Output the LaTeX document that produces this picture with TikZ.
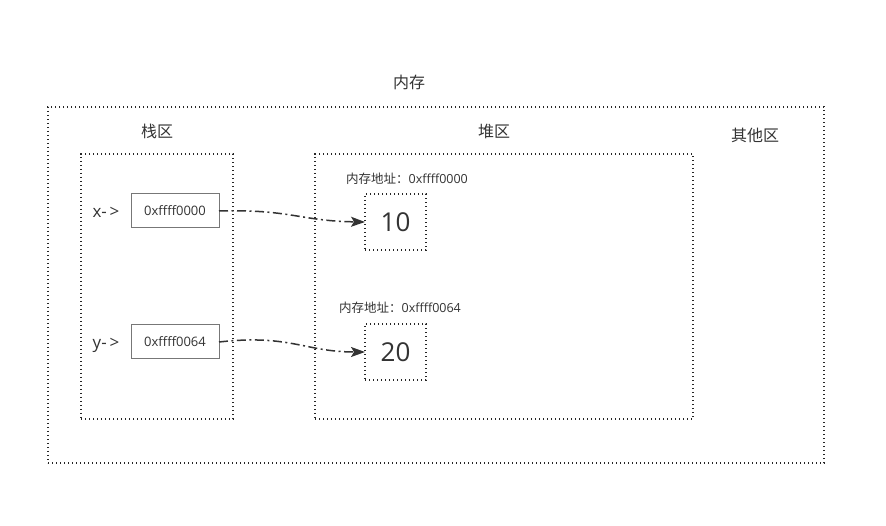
\documentclass[tikz,border=0pt]{standalone}
\usepackage{fontspec}
\setmainfont{Open Sans}
\newfontfamily\cjk{Noto Sans CJK SC}
\usetikzlibrary{arrows.meta}
\definecolor{txt}{HTML}{333333}
\definecolor{boxline}{HTML}{777777}
\begin{document}
\begin{tikzpicture}[x=1pt,y=-1pt,
	region/.style={draw=black!85, line width=1.3pt, dash pattern=on 1.3pt off 2.7pt, inner sep=0pt, outer sep=0pt},
	ptrbox/.style={draw=boxline, line width=1pt, fill=white, minimum width=88pt, minimum height=34pt, inner sep=0pt, outer sep=0pt, text=txt, font=\fontsize{13}{15}\selectfont},
	cell/.style={region, minimum width=61pt, minimum height=56pt, text=txt, font=\fontsize{26}{28}\selectfont},
	label/.style={text=txt, inner sep=0pt, font=\cjk\fontsize{16}{18}\selectfont},
	varname/.style={text=txt, inner sep=0pt, font=\fontsize{17}{19}\selectfont},
	addr/.style={text=txt, inner sep=0pt, font=\fontsize{12.5}{14}\selectfont},
	arrow/.style={draw=txt, line width=1.5pt, dash pattern=on 9pt off 3.5pt on 2pt off 3.5pt, -{Stealth[length=14pt,width=10pt,inset=3pt]}}]
	\useasboundingbox (0,0) rectangle (886,526);
	%memory and its regions
	\node[region, minimum width=776pt, minimum height=356pt] (mem) at (436,285) {};
	\node[label] (memlabel) at (409,82) {内存};
	\node[region, minimum width=152pt, minimum height=265pt] (stack) at (157,286.5) {};
	\node[label] (stacklabel) at (157,131) {栈区};
	\node[region, minimum width=378pt, minimum height=265pt] (heap) at (504,286.5) {};
	\node[label] (heaplabel) at (494,131) {堆区};
	\node[label] (otherlabel) at (755,135) {其他区};
	%pointers on the stack
	\node[varname] (xname) at (106,212) {x-\,>};
	\node[ptrbox] (px) at (175,211) {0xffff0000};
	\node[varname] (yname) at (106,345) {y-\,>};
	\node[ptrbox] (py) at (175,342) {0xffff0064};
	%values on the heap
	\node[cell] (ten) at (395.5,222) {10};
	\node[addr] (tenaddr) at (407,179) {{\cjk 内存地址：}0xffff0000};
	\node[cell] (twenty) at (395.5,352) {20};
	\node[addr] (twentyaddr) at (400,308) {{\cjk 内存地址：}0xffff0064};
	%references
	\draw[arrow] (px.east) .. controls (290,209) and (300,221) .. (ten.west);
	\draw[arrow] (py.east) .. controls (290,334) and (305,352) .. (twenty.west);
\end{tikzpicture}
\end{document}
